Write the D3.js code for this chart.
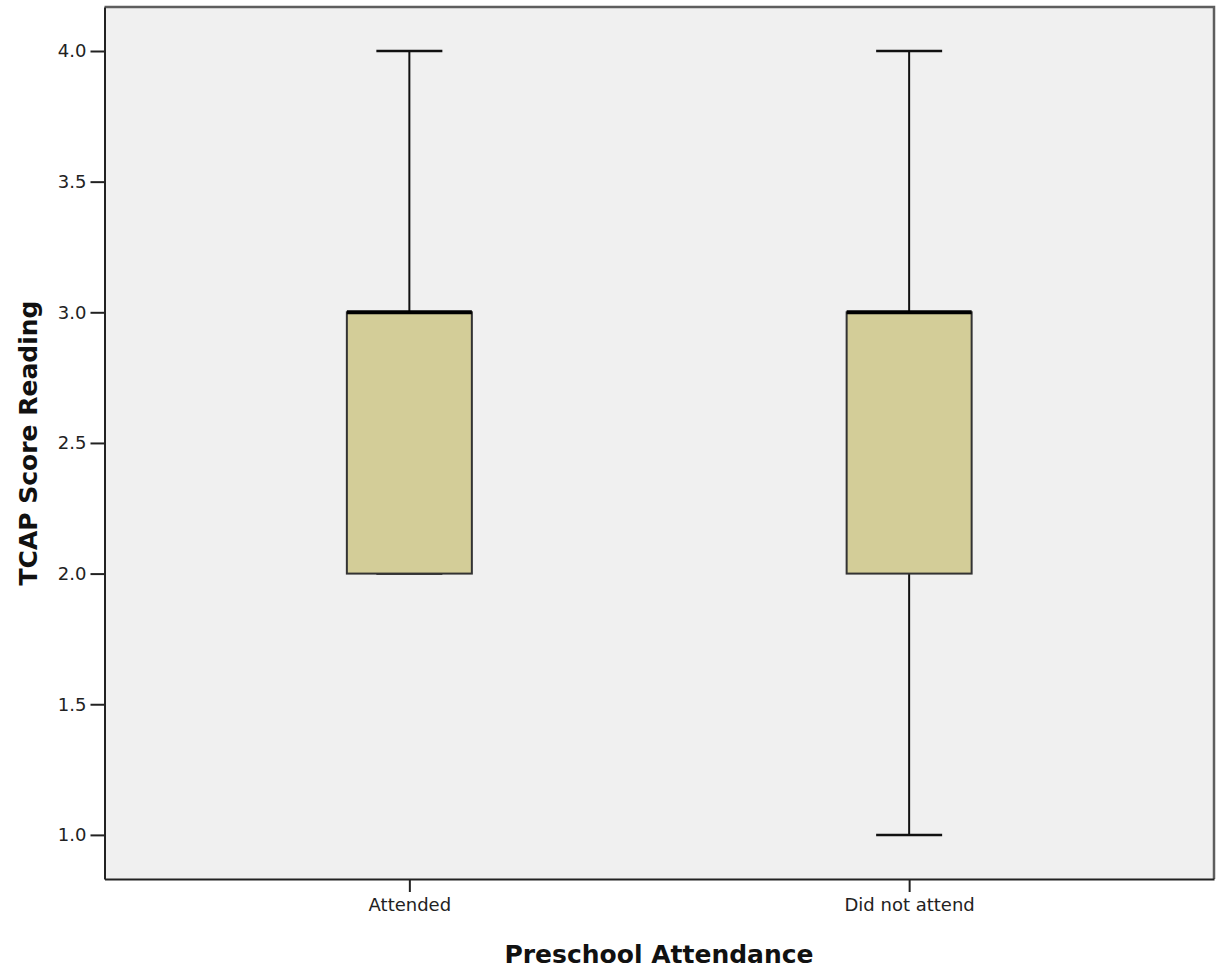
<!DOCTYPE html>
<html>
<head>
<meta charset="utf-8">
<script src="https://cdn.jsdelivr.net/npm/d3@7"></script>
<style>
  body { margin: 0; background: white; }
  svg { display: block; font-family: "DejaVu Sans", Verdana, sans-serif; }
</style>
</head>
<body>
<div class="chartDiv"></div>
<script>

// -----------------------Data--------------------------------//

let groups = ["Attended", "Did not attend"];
let whiskerLow = [2.0, 1.0];
let q1 = [2.0, 2.0];
let median = [3.0, 3.0];
let q3 = [3.0, 3.0];
let whiskerHigh = [4.0, 4.0];
let yTicks = [1.0, 1.5, 2.0, 2.5, 3.0, 3.5, 4.0];

let boxes = groups.map((g, i) => ({
    group: g, lo: whiskerLow[i], q1: q1[i], med: median[i], q3: q3[i], hi: whiskerHigh[i]
}));

// -----------------------Setup--------------------------------//

let margin = {top: 7, right: 5, bottom: 89, left: 104.5},
    width = 1219 - margin.left - margin.right,
    height = 968 - margin.top - margin.bottom;

let svg = d3.select(".chartDiv").append("svg")
    .attr("width", 1219)
    .attr("height", 968)
  .append("g")
    .attr("transform", "translate(" + margin.left + "," + margin.top + ")");

let x = d3.scalePoint().domain(groups).range([0, width]).padding(0.61);
let y = d3.scaleLinear().domain([0.8312, 4.1684]).range([height, 0]);

// plot background
svg.append("rect")
    .attr("width", width)
    .attr("height", height)
    .attr("fill", "#f0f0f0")

// top/right frame
svg.append("path")
    .attr("d", "M0,0H" + width + "V" + height)
    .attr("fill", "none")
    .attr("stroke", "#5e5e5e")
    .attr("stroke-width", 2.5)

// axes
let yAxis = svg.append("g")
    .call(d3.axisLeft(y).tickValues(yTicks).tickFormat(d3.format(".1f"))
        .tickSize(14).tickSizeOuter(0).tickPadding(4))
    .attr("font-family", null)
yAxis.select(".domain").attr("stroke", "#222").attr("stroke-width", 2)
yAxis.selectAll(".tick line").attr("stroke", "#222").attr("stroke-width", 2)
yAxis.selectAll("text").style("font-size", "18px").style("font-family", "'DejaVu Sans'").attr("fill", "#222")

let xAxis = svg.append("g")
    .attr("transform", "translate(0," + height + ")")
    .call(d3.axisBottom(x).tickSize(13).tickSizeOuter(0).tickPadding(6))
    .attr("font-family", null)
xAxis.select(".domain").attr("stroke", "#222").attr("stroke-width", 2)
xAxis.selectAll(".tick line").attr("stroke", "#222").attr("stroke-width", 2)
xAxis.selectAll("text").style("font-size", "18px").style("font-family", "'DejaVu Sans'").attr("fill", "#222")

// -----------------------Boxes--------------------------------//

let boxW = 125, capW = 66;

let bx = svg.selectAll(".box").data(boxes).enter().append("g")
    .attr("class", "box")
    .attr("transform", d => "translate(" + x(d.group) + ",0)")

// whiskers
bx.append("line")
    .attr("y1", d => y(d.hi)).attr("y2", d => y(d.q3))
    .attr("stroke", "#111").attr("stroke-width", 2)
bx.append("line")
    .attr("y1", d => y(d.lo)).attr("y2", d => y(d.q1))
    .attr("stroke", "#111").attr("stroke-width", 2)
bx.append("line")
    .attr("x1", -capW / 2).attr("x2", capW / 2)
    .attr("y1", d => y(d.hi)).attr("y2", d => y(d.hi))
    .attr("stroke", "#111").attr("stroke-width", 2.5)
bx.append("line")
    .attr("x1", -capW / 2).attr("x2", capW / 2)
    .attr("y1", d => y(d.lo)).attr("y2", d => y(d.lo))
    .attr("stroke", "#111").attr("stroke-width", 2.5)

// box
bx.append("rect")
    .attr("x", -boxW / 2)
    .attr("width", boxW)
    .attr("y", d => y(d.q3))
    .attr("height", d => y(d.q1) - y(d.q3))
    .attr("fill", "#d3cd98")
    .attr("stroke", "#333")
    .attr("stroke-width", 2)

// median
bx.append("line")
    .attr("x1", -boxW / 2).attr("x2", boxW / 2)
    .attr("y1", d => y(d.med)).attr("y2", d => y(d.med))
    .attr("stroke", "#000").attr("stroke-width", 4)

// -----------------------Titles--------------------------------//

svg.append("text")
    .attr("x", 659 - margin.left)
    .attr("y", 963 - margin.top)
    .attr("text-anchor", "middle")
    .style("font-size", "25px")
    .style("font-weight", "bold")
    .attr("fill", "#111")
    .text("Preschool Attendance")

svg.append("text")
    .attr("transform", "translate(" + (37 - margin.left) + "," + (443 - margin.top) + ") rotate(-90)")
    .attr("text-anchor", "middle")
    .style("font-size", "25px")
    .style("font-weight", "bold")
    .attr("fill", "#111")
    .text("TCAP Score Reading")

</script>
</body>
</html>
